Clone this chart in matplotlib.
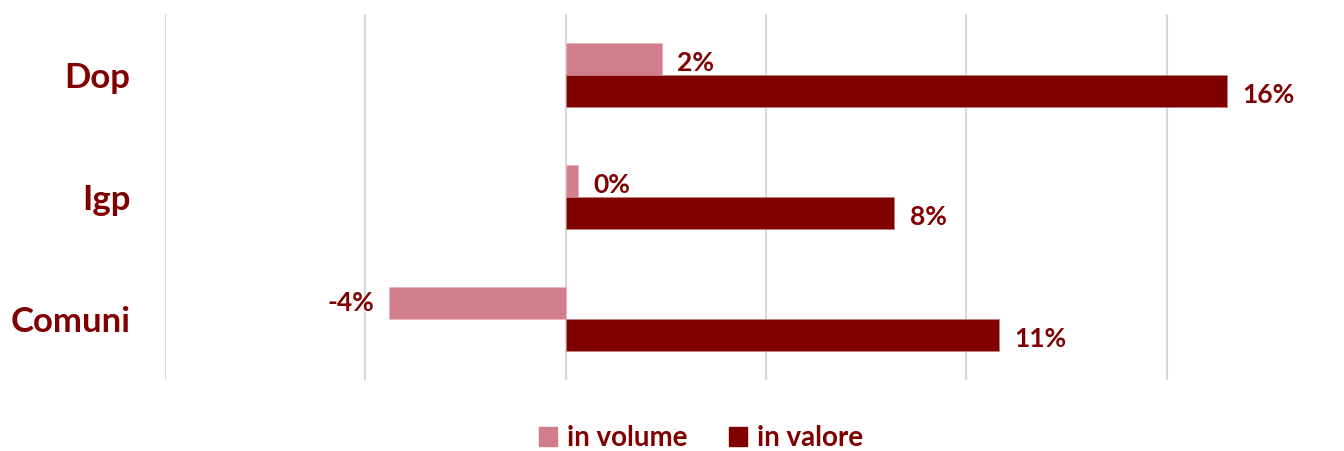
import matplotlib.pyplot as plt
from matplotlib.patches import Patch
import numpy as np

categorie = ["Dop", "Igp", "Comuni"]
in_volume = [2.4, 0.3, -4.4]
in_valore = [16.5, 8.2, 10.8]
etichette_volume = ["2%", "0%", "-4%"]
etichette_valore = ["16%", "8%", "11%"]

rosso = "#800000"
rosa = "#D27D8B"
plt.rcParams['font.family'] = ['Lato', 'DejaVu Sans']

fig = plt.figure(figsize=(13.44, 4.51), dpi=100)
ax = fig.add_axes([0.1228, 0.1574, 0.8199, 0.8116])

y = np.arange(len(categorie))
h = 0.26
ax.barh(y - h / 2, in_volume, height=h, color=rosa, edgecolor="#E8B7BF", linewidth=0.6, zorder=3)
ax.barh(y + h / 2, in_valore, height=h, color=rosso, edgecolor="#C08080", linewidth=0.6, zorder=3)

# etichette dati
for i in range(len(categorie)):
    v = in_volume[i]
    if v >= 0:
        ax.annotate(etichette_volume[i], (v, y[i] - h / 2), xytext=(11, -3), textcoords="offset points",
                    ha="left", va="center", fontsize=19, fontweight="bold", color=rosso)
    else:
        ax.annotate(etichette_volume[i], (v, y[i] - h / 2), xytext=(-11, 0), textcoords="offset points",
                    ha="right", va="center", fontsize=19, fontweight="bold", color=rosso)
    ax.annotate(etichette_valore[i], (in_valore[i], y[i] + h / 2), xytext=(11, -3), textcoords="offset points",
                ha="left", va="center", fontsize=19, fontweight="bold", color=rosso)

ax.set_xlim(-10, 17.5)
ax.set_ylim(2.5, -0.5)
ax.set_xticks([-10, -5, 0, 5, 10, 15])
ax.xaxis.grid(True, color="#D9D9D9", linewidth=1.5, zorder=0)
ax.tick_params(axis="x", labelbottom=False, length=0)
ax.set_yticks(y)
ax.set_yticklabels(categorie, fontsize=25, fontweight="bold", color=rosso)
ax.tick_params(axis="y", length=0, pad=25)
for s in ax.spines.values():
    s.set_visible(False)

maniglie = [Patch(color=rosa, label="in volume"), Patch(color=rosso, label="in valore")]
fig.legend(handles=maniglie, loc="center", bbox_to_anchor=(701 / 1344, 1 - 438 / 451), ncol=2,
           frameon=False, handlelength=0.65, handleheight=0.65, handletextpad=0.35, columnspacing=1.5,
           prop={"size": 20, "weight": "bold"}, labelcolor=rosso)

fig.savefig("out.png", dpi=100)
